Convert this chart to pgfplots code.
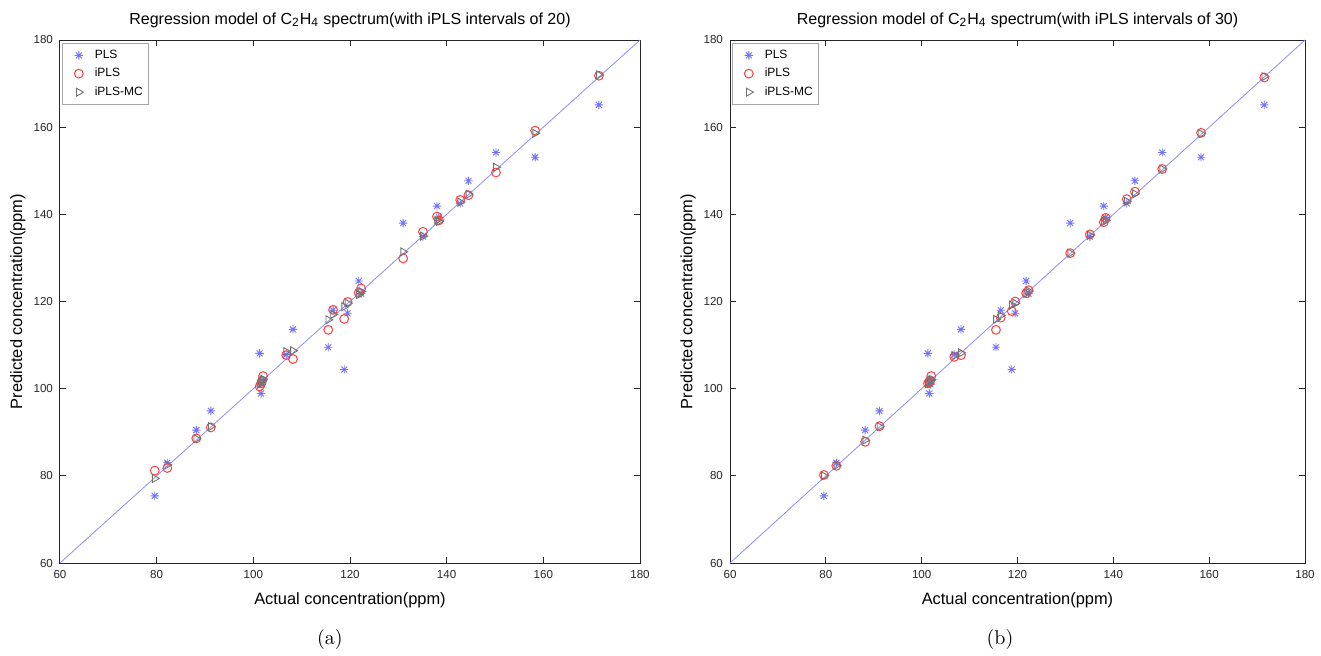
\documentclass[border=0pt]{standalone}
\usepackage{fontspec}
\setsansfont{Liberation Sans}
\usepackage{pgfplots}
\usepackage{pgfplotstable}
\pgfplotsset{compat=1.18}

\definecolor{plsblue}{rgb}{0.45,0.45,1}
\definecolor{iplsred}{rgb}{1,0.25,0.25}
\definecolor{mcgray}{rgb}{0.45,0.45,0.45}
\definecolor{fitline}{rgb}{0.55,0.55,1}
\definecolor{axgray}{rgb}{0.15,0.15,0.15}

% MATLAB style '*' marker: plus and cross together
\pgfdeclareplotmark{mstar}{%
  \pgfpathmoveto{\pgfqpoint{-\pgfplotmarksize}{0pt}}%
  \pgfpathlineto{\pgfqpoint{\pgfplotmarksize}{0pt}}%
  \pgfpathmoveto{\pgfqpoint{0pt}{-\pgfplotmarksize}}%
  \pgfpathlineto{\pgfqpoint{0pt}{\pgfplotmarksize}}%
  \pgfpathmoveto{\pgfqpoint{-0.707\pgfplotmarksize}{-0.707\pgfplotmarksize}}%
  \pgfpathlineto{\pgfqpoint{0.707\pgfplotmarksize}{0.707\pgfplotmarksize}}%
  \pgfpathmoveto{\pgfqpoint{-0.707\pgfplotmarksize}{0.707\pgfplotmarksize}}%
  \pgfpathlineto{\pgfqpoint{0.707\pgfplotmarksize}{-0.707\pgfplotmarksize}}%
  \pgfusepathqstroke}

% actual, PLS, iPLS (20), iPLS-MC (20), iPLS (30), iPLS-MC (30)
\pgfplotstableread{
x      pls    ipA    mcA    ipB    mcB
79.6   75.4   81.2   79.4   80.2   80.0
82.2   83.0   81.8   82.5   82.3   82.4
88.2   90.5   88.6   88.5   87.8   88.2
91.2   94.9   91.1   91.3   91.4   91.3
101.3  108.1  100.5  101.0  101.2  101.2
101.6  98.9   101.2  101.5  101.5  101.6
101.8  101.0  101.8  101.9  101.9  101.9
102.0  101.8  102.9  102.2  102.9  102.1
106.8  107.8  107.7  108.5  107.3  107.6
108.2  113.6  106.8  108.7  107.7  108.2
115.5  109.5  113.5  115.8  113.5  115.9
116.5  118.0  118.1  117.0  116.3  116.8
118.8  104.4  116.0  118.8  117.8  119.2
119.5  117.3  119.9  119.6  120.0  119.6
121.8  124.7  122.0  121.6  121.9  121.9
122.3  121.8  123.0  122.3  122.6  122.4
131.0  138.0  129.9  131.4  131.1  131.1
135.1  134.9  136.0  135.0  135.4  135.2
138.0  141.9  139.5  138.6  138.2  138.3
138.4  139.3  138.6  138.4  139.2  138.6
142.8  142.5  143.3  142.8  143.5  143.0
144.5  147.7  144.4  144.6  145.2  144.7
150.2  154.2  149.6  150.8  150.4  150.4
158.3  153.1  159.2  158.6  158.7  158.5
171.5  165.1  171.8  172.0  171.4  171.6
}\data

\pgfplotsset{
  regr/.style={
    scale only axis,
    height=261.5pt,
    xmin=60, xmax=180, ymin=60, ymax=180,
    xtick={60,80,...,180}, ytick={60,80,...,180},
    tick align=inside,
    major tick length=3pt,
    axis line style={axgray, line width=0.5pt},
    every tick/.style={axgray, line width=0.5pt},
    font=\sffamily,
    tick label style={font=\sffamily\fontsize{5.8}{7}\selectfont, text=axgray},
    /pgf/number format/assume math mode=true,
    xlabel={Actual concentration(ppm)},
    ylabel={Predicted concentration(ppm)},
    label style={font=\sffamily\fontsize{8.2}{9.8}\selectfont},
    legend style={at={(axis description cs:0.004,0.994)}, anchor=north west,
      draw=gray!70, line width=0.5pt, font=\sffamily\fontsize{6}{7}\selectfont,
      inner sep=1pt, row sep=-0.6pt, legend cell align=left},
    legend image code/.code={%
      \path[draw=none] (0pt,0pt) -- (13pt,0pt);
      \draw[#1, only marks] plot coordinates {(7pt,0pt)};},
    clip=false,
  },
}

\begin{document}
\begin{tikzpicture}
\useasboundingbox (-30pt,-46pt) rectangle (630.5pt,281.5pt);

\begin{axis}[regr, width=290pt,
  xlabel style={at={(axis description cs:0.5,-0.0707)}, anchor=center},
  ylabel style={at={(axis description cs:-0.0724,0.5)}, anchor=center},
]
\addplot[only marks, mark=mstar, mark size=2.1pt, plsblue, line width=0.45pt] table[x=x, y=pls] {\data};
\addlegendentry{PLS}
\addplot[only marks, mark=o, mark size=2.2pt, iplsred, line width=0.5pt] table[x=x, y=ipA] {\data};
\addlegendentry{iPLS}
\addplot[only marks, mark=triangle, mark size=2.3pt, mcgray, line width=0.45pt, mark options={rotate=-90}] table[x=x, y=mcA] {\data};
\addlegendentry{iPLS-MC}
\addplot[fitline, line width=0.4pt, forget plot] coordinates {(60,60) (180,180)};
\node[font=\sffamily\fontsize{8}{9.6}\selectfont, anchor=base] at ([yshift=8pt]axis description cs:0.5,1)
  {Regression model of C\textsubscript{2}H\textsubscript{4} spectrum(with iPLS intervals of 20)};
\node[font=\rmfamily\fontsize{10}{12}\selectfont] at (axis description cs:0.4655,-0.147) {(a)};
\end{axis}

\begin{axis}[regr, width=287.5pt, at={(335pt,0pt)},
  xlabel style={at={(axis description cs:0.5,-0.0707)}, anchor=center},
  ylabel style={at={(axis description cs:-0.073,0.5)}, anchor=center},
]
\addplot[only marks, mark=mstar, mark size=2.1pt, plsblue, line width=0.45pt] table[x=x, y=pls] {\data};
\addlegendentry{PLS}
\addplot[only marks, mark=o, mark size=2.2pt, iplsred, line width=0.5pt] table[x=x, y=ipB] {\data};
\addlegendentry{iPLS}
\addplot[only marks, mark=triangle, mark size=2.3pt, mcgray, line width=0.45pt, mark options={rotate=-90}] table[x=x, y=mcB] {\data};
\addlegendentry{iPLS-MC}
\addplot[fitline, line width=0.4pt, forget plot] coordinates {(60,60) (180,180)};
\node[font=\sffamily\fontsize{8}{9.6}\selectfont, anchor=base] at ([yshift=8pt]axis description cs:0.5,1)
  {Regression model of C\textsubscript{2}H\textsubscript{4} spectrum(with iPLS intervals of 30)};
\node[font=\rmfamily\fontsize{10}{12}\selectfont] at (axis description cs:0.4696,-0.147) {(b)};
\end{axis}
\end{tikzpicture}
\end{document}
